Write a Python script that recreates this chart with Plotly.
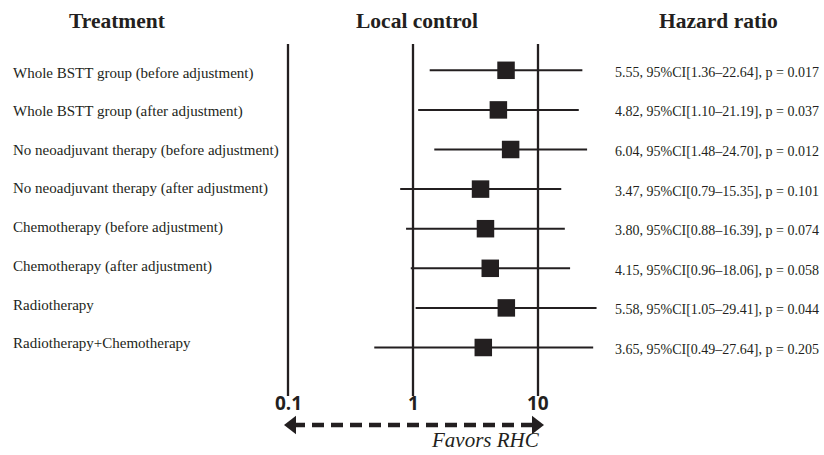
import plotly.graph_objects as go
import math

treatments = [
    "Whole BSTT group (before adjustment)",
    "Whole BSTT group (after adjustment)",
    "No neoadjuvant therapy (before adjustment)",
    "No neoadjuvant therapy (after adjustment)",
    "Chemotherapy (before adjustment)",
    "Chemotherapy (after adjustment)",
    "Radiotherapy",
    "Radiotherapy+Chemotherapy",
]
hr = [5.55, 4.82, 6.04, 3.47, 3.80, 4.15, 5.58, 3.65]
ci_low = [1.36, 1.10, 1.48, 0.79, 0.88, 0.96, 1.05, 0.49]
ci_high = [22.64, 21.19, 24.70, 15.35, 16.39, 18.06, 29.41, 27.64]
p_values = ["0.017", "0.037", "0.012", "0.101", "0.074", "0.058", "0.044", "0.205"]
ref_lines = [0.1, 1, 10]
tick_labels = ["0.1", "1", "10"]

W, H = 824, 455
px_one = 413.0     # pixel of x = 1
px_dec = 125.0     # pixels per decade
row0 = 70.3        # pixel of first row
row_step = 39.6    # pixels per row


def py(p):
    """screen pixel y -> paper y"""
    return 1 - p / H


def px(p):
    """screen pixel x -> paper x"""
    return p / W


def rowy(p):
    """screen pixel y -> row coordinate"""
    return (p - row0) / row_step


def logx(p):
    """screen pixel x -> data x (log scale)"""
    return 10 ** ((p - px_one) / px_dec)


xr = [(0 - px_one) / px_dec, (W - px_one) / px_dec]
yr = [rowy(H), rowy(0)]

rows = list(range(len(treatments)))
serif = "Liberation Serif, Times New Roman, serif"
sans = "Open Sans, DejaVu Sans, sans-serif"
ink = "#231f20"

fig = go.Figure()

# reference vertical lines
vx, vy = [], []
for v in ref_lines:
    vx += [v, v, None]
    vy += [rowy(44), rowy(396), None]
fig.add_trace(go.Scatter(x=vx, y=vy, mode="lines",
                         line=dict(color=ink, width=2.3),
                         hoverinfo="skip", showlegend=False))

# CI lines
cx, cy = [], []
for lo, hi, r in zip(ci_low, ci_high, rows):
    cx += [lo, hi, None]
    cy += [r, r, None]
fig.add_trace(go.Scatter(x=cx, y=cy, mode="lines",
                         line=dict(color=ink, width=2),
                         hoverinfo="skip", showlegend=False))

# HR boxes
fig.add_trace(go.Scatter(x=hr, y=rows, mode="markers",
                         marker=dict(symbol="square", size=17.5, color=ink,
                                     line=dict(width=0)),
                         showlegend=False))

# dashed double arrow
ay = rowy(425)
fig.add_trace(go.Scatter(x=[logx(293), logx(535)], y=[ay, ay], mode="lines",
                         line=dict(color=ink, width=4.5, dash="12px,7px"),
                         hoverinfo="skip", showlegend=False))
fig.add_trace(go.Scatter(x=[logx(292), logx(536)], y=[ay, ay], mode="markers",
                         marker=dict(symbol=["triangle-left", "triangle-right"],
                                     size=16, color=ink, line=dict(width=0)),
                         hoverinfo="skip", showlegend=False))

annotations = []
# headers
for txt, cxp in [("Treatment", 117), ("Local control", 417), ("Hazard ratio", 718)]:
    annotations.append(dict(text="<b>%s</b>" % txt, x=px(cxp), y=py(21),
                            xref="paper", yref="paper", showarrow=False,
                            xanchor="center", yanchor="middle",
                            font=dict(family=serif, size=21.5, color=ink)))
# row labels and HR text
for i, (name, h, lo, hi, p) in enumerate(zip(treatments, hr, ci_low, ci_high, p_values)):
    ly = 73 + 38.6 * i
    annotations.append(dict(text=name, x=px(11), y=py(ly),
                            xref="paper", yref="paper", showarrow=False,
                            xanchor="left", yanchor="middle",
                            font=dict(family=serif, size=15, color=ink)))
    annotations.append(dict(text="%.2f, 95%%CI[%.2f\u2013%.2f], p = %s" % (h, lo, hi, p),
                            x=px(613), y=i + 2 / row_step,
                            xref="paper", yref="y", showarrow=False,
                            xanchor="left", yanchor="middle",
                            font=dict(family=serif, size=14, color=ink)))
# tick labels
for v, t in zip(ref_lines, tick_labels):
    annotations.append(dict(text="<b>%s</b>" % t, x=math.log10(v), y=py(403),
                            xref="x", yref="paper", showarrow=False,
                            xanchor="center", yanchor="middle",
                            font=dict(family=sans, size=19, color=ink)))
annotations.append(dict(text="<i>Favors RHC</i>", x=px(486), y=py(440),
                        xref="paper", yref="paper", showarrow=False,
                        xanchor="center", yanchor="middle",
                        font=dict(family=serif, size=21, color=ink)))

fig.update_layout(
    width=W, height=H,
    margin=dict(l=0, r=0, t=0, b=0),
    paper_bgcolor="white", plot_bgcolor="white",
    xaxis=dict(type="log", range=xr, visible=False, fixedrange=True),
    yaxis=dict(range=yr, visible=False, fixedrange=True),
    annotations=annotations,
    showlegend=False,
)

fig.write_html(
    "out.html",
    config={"displayModeBar": False},
    post_script="document.body.style.margin='0';document.body.style.overflow='hidden';",
)
